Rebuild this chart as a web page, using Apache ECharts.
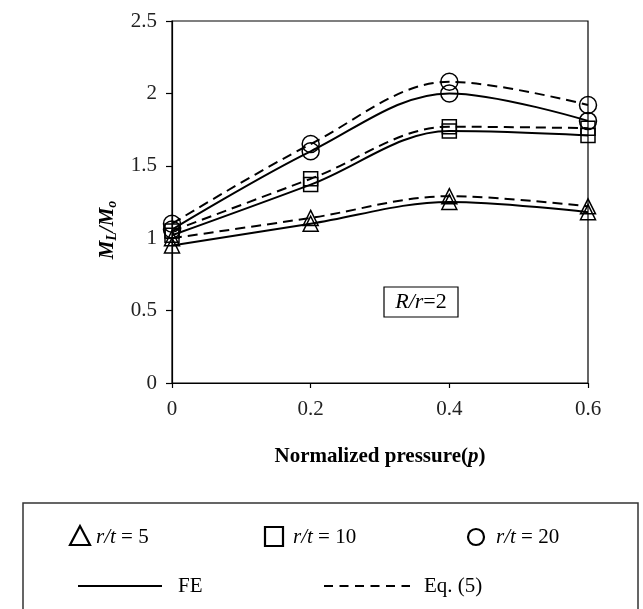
<!DOCTYPE html>
<html>
<head>
<meta charset="utf-8">
<script src="https://cdn.jsdelivr.net/npm/echarts@6/dist/echarts.min.js"></script>
<style>
  html, body { margin: 0; padding: 0; background: #fff; }
  #main { width: 643px; height: 609px; }
</style>
</head>
<body>
<div id="main"></div>
<script>
// normalized pressure p
var pressure = [0, 0.2, 0.4, 0.6];
var xTicks = [0, 0.2, 0.4, 0.6];

// FE results
var feRt5  = [0.95, 1.10, 1.25, 1.18];
var feRt10 = [1.02, 1.37, 1.74, 1.71];
var feRt20 = [1.06, 1.60, 2.00, 1.81];

// Eq. (5)
var eqRt5  = [1.00, 1.14, 1.29, 1.22];
var eqRt10 = [1.05, 1.41, 1.77, 1.76];
var eqRt20 = [1.10, 1.65, 2.08, 1.92];

var font = 'Liberation Serif';

function pairs(ys) {
  return pressure.map(function (x, i) { return [x, ys[i]]; });
}

function makeSeries(name, ys, symbol, size, dashed) {
  return {
    name: name,
    type: 'line',
    data: pairs(ys),
    smooth: 0.35,
    symbol: symbol,
    symbolSize: size,
    itemStyle: { color: 'transparent', borderColor: '#000', borderWidth: 1.5 },
    lineStyle: { color: '#000', width: 2, type: dashed ? [10, 6] : 'solid' },
    silent: true,
    animation: false
  };
}

var chart = echarts.init(document.getElementById('main'));

var legendText = { i: { fontFamily: font, fontSize: 21, fontStyle: 'italic', fill: '#000' } };

var option = {
  backgroundColor: '#fff',
  animation: false,
  grid: {
    left: 172, right: 55, top: 21, bottom: 226,
    show: true, borderColor: '#000', borderWidth: 1.2, backgroundColor: 'transparent'
  },
  xAxis: {
    type: 'value',
    min: 0, max: 0.6, interval: 0.2,
    name: '{b|Normalized pressure(}{bi|p}{b|)}',
    nameLocation: 'middle',
    nameGap: 63,
    nameTextStyle: {
      rich: {
        b: { fontFamily: font, fontSize: 21, fontWeight: 'bold', color: '#000' },
        bi: { fontFamily: font, fontSize: 21, fontWeight: 'bold', fontStyle: 'italic', color: '#000' }
      }
    },
    axisLine: { lineStyle: { color: '#000', width: 1.2 } },
    axisTick: { show: true, inside: false, length: 5, lineStyle: { color: '#000', width: 1.2 } },
    axisLabel: {
      fontFamily: font, fontSize: 21, color: '#222', margin: 16,
      formatter: function (v) {
        return xTicks.indexOf(Math.round(v * 10) / 10) >= 0 ? String(Math.round(v * 10) / 10) : '';
      }
    },
    splitLine: { show: false }
  },
  yAxis: {
    type: 'value',
    min: 0, max: 2.5, interval: 0.5,
    name: '{m|M}{s|L}{m|/M}{s|o}',
    nameLocation: 'middle',
    nameGap: 48,
    nameRotate: 90,
    nameTextStyle: {
      padding: [0, 56, 0, 0],
      rich: {
        m: { fontFamily: font, fontSize: 21, fontWeight: 'bold', fontStyle: 'italic', color: '#000' },
        s: { fontFamily: font, fontSize: 14, fontWeight: 'bold', fontStyle: 'italic', color: '#000', padding: [10, 0, 0, 0] }
      }
    },
    axisLine: { show: true, lineStyle: { color: '#000', width: 1.2 } },
    axisTick: { show: true, inside: false, length: 6, lineStyle: { color: '#000', width: 1.2 } },
    axisLabel: { fontFamily: font, fontSize: 21, color: '#222', margin: 15 },
    splitLine: { show: false }
  },
  series: [
    makeSeries('FE r/t = 5', feRt5, 'triangle', 15, false),
    makeSeries('FE r/t = 10', feRt10, 'rect', 14, false),
    makeSeries('FE r/t = 20', feRt20, 'circle', 17, false),
    makeSeries('Eq r/t = 5', eqRt5, 'triangle', 15, true),
    makeSeries('Eq r/t = 10', eqRt10, 'rect', 14, true),
    makeSeries('Eq r/t = 20', eqRt20, 'circle', 17, true)
  ],
  graphic: [
    // R/r=2 annotation
    {
      type: 'rect', shape: { x: 384, y: 287, width: 74, height: 30 },
      style: { fill: '#fff', stroke: '#000', lineWidth: 1.2 }
    },
    {
      type: 'text', x: 421, y: 302,
      style: {
        text: '{i|R/r}{n|=2}', align: 'center', verticalAlign: 'middle',
        rich: {
          i: { fontFamily: font, fontSize: 22, fontStyle: 'italic', fill: '#000' },
          n: { fontFamily: font, fontSize: 22, fill: '#000' }
        }
      }
    },
    // legend box
    {
      type: 'rect', shape: { x: 23, y: 503, width: 615, height: 112 },
      style: { fill: 'transparent', stroke: '#333', lineWidth: 1.5 }
    },
    {
      type: 'polygon', shape: { points: [[80, 526], [70, 545], [90, 545]] },
      style: { fill: 'transparent', stroke: '#000', lineWidth: 2.2 }
    },
    {
      type: 'text', x: 96, y: 537,
      style: { text: '{i|r/t} = 5', verticalAlign: 'middle', fontFamily: font, fontSize: 21, fill: '#000', rich: legendText }
    },
    {
      type: 'rect', shape: { x: 265, y: 527, width: 18, height: 19 },
      style: { fill: 'transparent', stroke: '#000', lineWidth: 2.2 }
    },
    {
      type: 'text', x: 293, y: 537,
      style: { text: '{i|r/t} = 10', verticalAlign: 'middle', fontFamily: font, fontSize: 21, fill: '#000', rich: legendText }
    },
    {
      type: 'circle', shape: { cx: 476, cy: 537, r: 8 },
      style: { fill: 'transparent', stroke: '#000', lineWidth: 2.2 }
    },
    {
      type: 'text', x: 496, y: 537,
      style: { text: '{i|r/t} = 20', verticalAlign: 'middle', fontFamily: font, fontSize: 21, fill: '#000', rich: legendText }
    },
    {
      type: 'line', shape: { x1: 78, y1: 586, x2: 162, y2: 586 },
      style: { stroke: '#000', lineWidth: 2.2 }
    },
    {
      type: 'text', x: 178, y: 586,
      style: { text: 'FE', verticalAlign: 'middle', fontFamily: font, fontSize: 21, fill: '#000' }
    },
    {
      type: 'line', shape: { x1: 324, y1: 586, x2: 410, y2: 586 },
      style: { stroke: '#000', lineWidth: 2.2, lineDash: [9, 6.5] }
    },
    {
      type: 'text', x: 424, y: 586,
      style: { text: 'Eq. (5)', verticalAlign: 'middle', fontFamily: font, fontSize: 21, fill: '#000' }
    }
  ]
};

chart.setOption(option);
</script>
</body>
</html>
